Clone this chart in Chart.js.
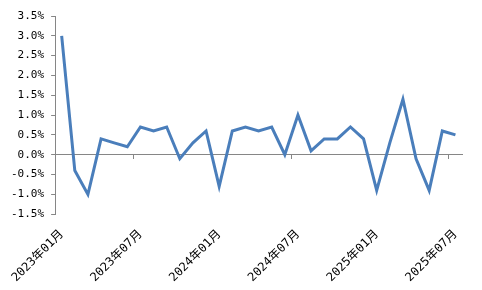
<!DOCTYPE html>
<html>
<head>
<meta charset="utf-8">
<script src="https://cdn.jsdelivr.net/npm/chart.js@4"></script>
<style>
html,body{margin:0;padding:0;background:#fff;}
canvas{display:block;}
</style>
</head>
<body>
<canvas id="c" width="482" height="290"></canvas>
<script>
const categories = [
  "2023年01月","2023年02月","2023年03月","2023年04月","2023年05月","2023年06月",
  "2023年07月","2023年08月","2023年09月","2023年10月","2023年11月","2023年12月",
  "2024年01月","2024年02月","2024年03月","2024年04月","2024年05月","2024年06月",
  "2024年07月","2024年08月","2024年09月","2024年10月","2024年11月","2024年12月",
  "2025年01月","2025年02月","2025年03月","2025年04月","2025年05月","2025年06月",
  "2025年07月"
];
const values = [
  3.0, -0.4, -1.0, 0.4, 0.3, 0.2,
  0.7, 0.6, 0.7, -0.1, 0.3, 0.6,
  -0.8, 0.6, 0.7, 0.6, 0.7, 0.0,
  1.0, 0.1, 0.4, 0.4, 0.7, 0.4,
  -0.9, 0.3, 1.4, -0.1, -0.9, 0.6,
  0.5
];
const yMin = -1.5, yMax = 3.5, yStep = 0.5;
const labelEvery = 6;
const majorTickEvery = 12, majorTickStart = 6;

const axisGray = '#868686';
const fontFamily = '"DejaVu Sans Mono", "Noto Sans CJK SC", monospace';

new Chart(document.getElementById('c'), {
  type: 'line',
  data: {
    labels: categories,
    datasets: [{
      data: values,
      borderColor: '#4a7ebb',
      borderWidth: 3,
      pointRadius: 0,
      tension: 0,
      fill: false,
      borderJoinStyle: 'miter'
    }]
  },
  options: {
    responsive: false,
    animation: false,
    devicePixelRatio: 1,
    layout: { padding: { top: 16, right: 20, left: 4, bottom: 0 } },
    plugins: { legend: { display: false }, tooltip: { enabled: false } },
    scales: {
      x: {
        type: 'category',
        position: 'bottom',
        offset: true,
        grid: { display: false },
        border: { display: false },
        afterFit: (scale) => { scale.paddingLeft = 0; scale.paddingRight = 0; },
        ticks: {
          autoSkip: false,
          maxRotation: 45,
          minRotation: 45,
          padding: 5,
          color: '#000',
          font: { family: fontFamily, size: 12 },
          callback: function(v, i) { return i % labelEvery === 0 ? categories[i] : ''; }
        }
      },
      x2: {
        type: 'category',
        labels: categories,
        position: { y: 0 },
        offset: true,
        afterFit: (scale) => { scale.paddingLeft = 0; scale.paddingRight = 0; },
        grid: {
          offset: true,
          drawOnChartArea: false,
          drawTicks: true,
          tickLength: 4,
          color: (ctx) => (ctx.index % majorTickEvery === majorTickStart) ? axisGray : 'rgba(0,0,0,0)'
        },
        border: { display: true, color: axisGray, width: 1 },
        ticks: { display: false, autoSkip: false }
      },
      y: {
        min: yMin,
        max: yMax,
        grid: {
          drawOnChartArea: false,
          drawTicks: true,
          tickLength: 4,
          color: axisGray
        },
        border: { display: true, color: axisGray, width: 1 },
        ticks: {
          stepSize: yStep,
          padding: 7,
          color: '#000',
          font: { family: fontFamily, size: 11 },
          callback: (v) => v.toFixed(1) + '%'
        }
      }
    }
  }
});
</script>
</body>
</html>
